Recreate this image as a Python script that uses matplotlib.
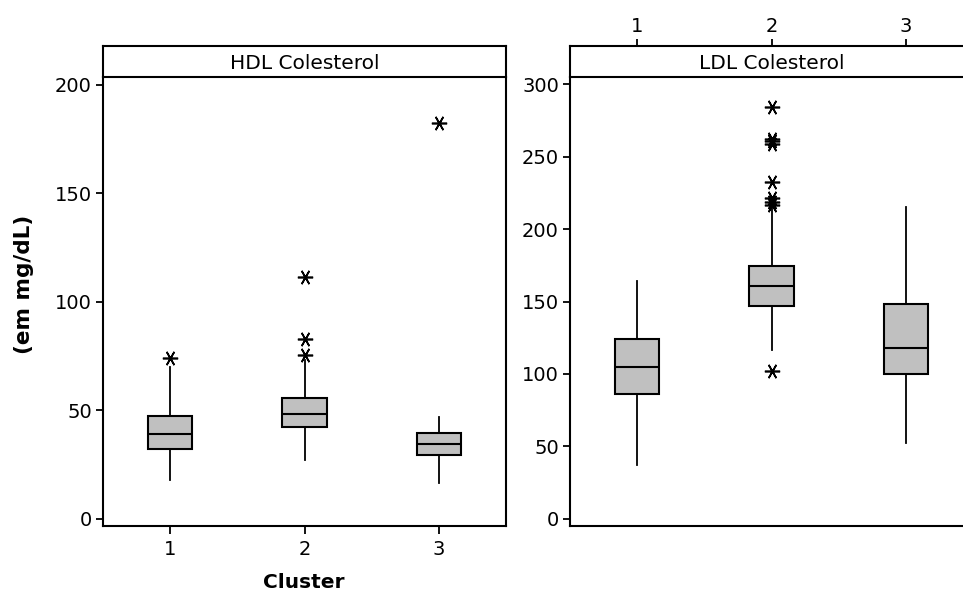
import matplotlib.pyplot as plt

plt.rcParams['font.family'] = ['DejaVu Sans']

clusters = [1, 2, 3]

# HDL cholesterol, per cluster
hdl_q1 = [32.1, 42.3, 29.5]
hdl_med = [38.9, 48.2, 34.6]
hdl_q3 = [47.3, 55.6, 39.6]
hdl_lo = [17.8, 27.0, 16.3]
hdl_hi = [69.8, 73.1, 47.0]
hdl_out = [[74.2], [75.4, 82.7, 111.2], [182.2]]

# LDL cholesterol, per cluster
ldl_q1 = [86.1, 146.9, 99.9]
ldl_med = [105.0, 160.9, 117.7]
ldl_q3 = [124.1, 174.7, 148.1]
ldl_lo = [36.9, 116.5, 52.1]
ldl_hi = [164.2, 215.5, 215.0]
ldl_out = [[], [102.2, 216.5, 219.0, 221.5, 232.7, 258.5, 260.5, 262.0, 284.0], []]

hdl_ticks = [0, 50, 100, 150, 200]
ldl_ticks = [0, 50, 100, 150, 200, 250, 300]


def make_stats(q1, med, q3, lo, hi, out):
    return [dict(q1=a, med=b, q3=c, whislo=d, whishi=e, fliers=f)
            for a, b, c, d, e, f in zip(q1, med, q3, lo, hi, out)]


W, H = 963, 595
fig = plt.figure(figsize=(W / 100, H / 100), dpi=100)

def fx(px):
    return px / W

def fy(px):
    return 1 - px / H

top_strip, bot_strip, bot_plot = 46, 77, 526
panels = [
    (103, 'HDL Colesterol', make_stats(hdl_q1, hdl_med, hdl_q3, hdl_lo, hdl_hi, hdl_out),
     hdl_ticks, (-3.4, 203.5)),
    (570, 'LDL Colesterol', make_stats(ldl_q1, ldl_med, ldl_q3, ldl_lo, ldl_hi, ldl_out),
     ldl_ticks, (-5.0, 305.0)),
]
pw = 403

star = (6, 2, 90)
for i, (x0, title, stats, yt, ylim) in enumerate(panels):
    ax = fig.add_axes([fx(x0), fy(bot_plot), pw / W, (bot_plot - bot_strip) / H])
    ax.bxp(stats, positions=clusters, widths=0.33, patch_artist=True,
           showcaps=False,
           boxprops=dict(facecolor='#c0c0c0', edgecolor='black', linewidth=1.5),
           medianprops=dict(color='black', linewidth=1.5),
           whiskerprops=dict(color='black', linewidth=1.3),
           flierprops=dict(marker=star, markersize=11, markeredgecolor='black',
                           markeredgewidth=1.2, linestyle='none'))
    ax.set_xlim(0.5, 3.5)
    ax.set_ylim(*ylim)
    ax.set_yticks(yt)
    ax.tick_params(axis='y', direction='out', length=5, width=1.3, labelsize=14, pad=3)
    for s in ax.spines.values():
        s.set_linewidth(1.5)
    ax.spines['top'].set_visible(False)

    # panel header strip
    strip = fig.add_axes([fx(x0), fy(bot_strip), pw / W, (bot_strip - top_strip) / H])
    strip.set_xlim(0.5, 3.5)
    strip.set_yticks([])
    for s in strip.spines.values():
        s.set_linewidth(1.5)
    strip.text(0.5, 0.45, title, transform=strip.transAxes, ha='center', va='center',
               fontsize=14.5)

    if i == 0:
        ax.set_xticks(clusters)
        ax.tick_params(axis='x', direction='out', length=6, width=1.3, labelsize=14, pad=4)
        strip.set_xticks([])
    else:
        ax.set_xticks([])
        strip.set_xticks(clusters)
        strip.xaxis.tick_top()
        strip.tick_params(axis='x', direction='out', length=5, width=1.3, labelsize=14, pad=2)

fig.text(fx(304), fy(582), 'Cluster', ha='center', va='center', fontsize=14.5,
         fontweight='bold')
fig.text(fx(24), fy(284), '(em mg/dL)', ha='center', va='center', rotation=90,
         fontsize=15.5, fontweight='bold')

fig.savefig('out.png', dpi=100)
